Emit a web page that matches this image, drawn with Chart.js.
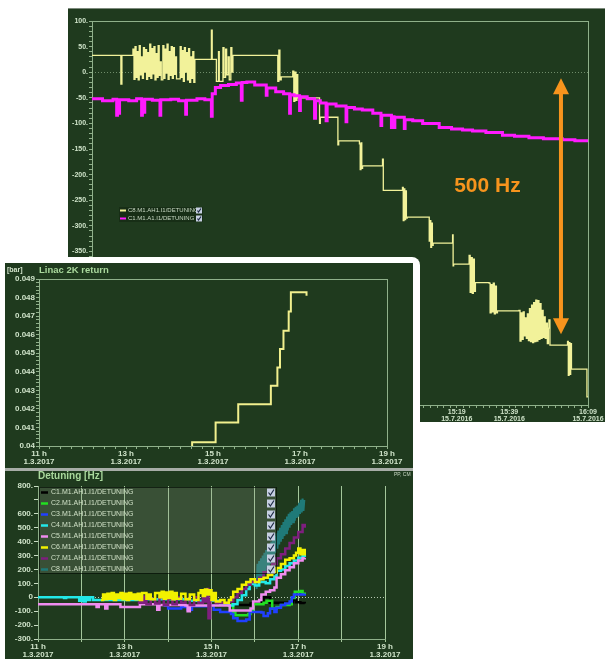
<!DOCTYPE html>
<html>
<head>
<meta charset="utf-8">
<script src="https://cdn.jsdelivr.net/npm/chart.js@4.4.1/dist/chart.umd.min.js"></script>
<style>
  html, body { margin: 0; padding: 0; background: #fff; }
  body { width: 605px; height: 659px; position: relative; overflow: hidden; font-family: "Liberation Sans", Arial, sans-serif; }
  .panel { position: absolute; background: #1f3a1e; }
  #topPanel { left: 68px; top: 8px; width: 537px; height: 414px; border-top: 1px solid #7d8a7d; box-sizing: border-box; }
  #frame { position: absolute; left: 0; top: 257px; width: 420px; height: 402px; background: #fff; border-top-right-radius: 8px; }
  #midPanel { left: 5px; top: 263px; width: 408px; height: 205px; }
  #sep { position: absolute; left: 5px; top: 468px; width: 408px; height: 3px; background: #a7ada7; }
  #detPanel { left: 5px; top: 471px; width: 408px; height: 188px; }
  canvas { position: absolute; }
  #topChart { left: 68px; top: 9px; }
  #midChart { left: 5px; top: 264px; }
  #detChart { left: 5px; top: 471px; }
  .label { position: absolute; white-space: nowrap; font-weight: bold; }
</style>
</head>
<body>
<div id="topPanel" class="panel"></div>
<canvas id="topChart" width="537" height="413"></canvas>
<div id="frame"></div>
<div id="midPanel" class="panel"></div>
<div id="sep"></div>
<div id="detPanel" class="panel"></div>
<canvas id="midChart" width="408" height="204"></canvas>
<canvas id="detChart" width="408" height="188"></canvas>
<div class="label" style="left:7px; top:266px; font-size:7px; color:#d3e4cc;">[bar]</div>
<div class="label" style="left:39px; top:264px; font-size:9.5px; color:#a9d89c;">Linac 2K return</div>
<div class="label" style="left:38px; top:470px; font-size:10px; color:#a9d89c;">Detuning [Hz]</div>
<div class="label" style="left:394px; top:471px; font-size:5px; font-weight:normal; color:#c9d8c4;">PP, CM</div>
<script>
// ---- top panel: detuning of two cavities (minutes after 13:00, Hz) ----
const topTickTimes = [19, 39, 59, 79, 99, 119, 139, 159, 189];
const topTickLabels = ['13:19', '13:39', '13:59', '14:19', '14:39', '14:59', '15:19', '15:39', '16:09'];
const topDate = '15.7.2016';

const c8Points = [
  [0, 33], [11, -23], [11.4, 33],
  [15.6, 45], [16.0, -14], [16.4, 50], [16.8, -10], [17.2, 40], [17.6, -15], [18.0, 52], [18.4, -5], [18.8, 30],
  [19.2, -12], [19.6, 48], [20.0, 0], [20.4, 44], [20.8, -14], [21.2, 38], [21.6, -8], [22.0, 55], [22.4, -12],
  [22.8, 46], [23.2, -3], [23.6, 50], [24.0, -15], [24.4, 36], [24.8, -10], [25.2, 52], [25.6, -6], [26.0, 20], [26.4, -15],
  [27.0, 52], [27.4, -12], [27.8, 45], [28.2, -2], [28.6, 55], [29.0, -14], [29.4, 40], [29.8, -6], [30.2, 50],
  [30.6, -12], [31.0, 48], [31.4, -4], [31.8, 30], [32.2, -13],
  [33.6, 50], [34.0, -10], [34.4, 42], [34.8, -18], [35.2, 48], [35.6, 0], [36.0, 38], [36.4, -15], [36.8, 46],
  [37.2, -20], [37.6, 30], [38.0, -12], [38.4, 40], [38.8, -20], [39.2, 25],
  [45.5, 82], [45.8, 25], [47.4, -18], [48.2, 40], [48.5, -18], [49.9, 48], [50.3, -10], [50.9, 45], [51.3, -5],
  [51.9, 30], [52.3, -15], [52.9, 48], [53.3, 0], [53.7, 33],
  [70.8, -18], [71.2, 43], [71.6, -15], [72.1, -9],
  [76.5, 2], [76.9, -57], [77.3, 0], [77.7, -55], [78.1, -5], [78.4, -50],
  [86.7, -100], [87.0, -88],
  [93.7, -142], [94.0, -134],
  [101.9, -140], [102.2, -190], [102.5, -138], [102.8, -188], [103.1, -183],
  [110.7, -170], [111.0, -231],
  [118.3, -225], [118.6, -290], [118.9, -228], [119.2, -288], [119.5, -232], [119.8, -285], [120.1, -283],
  [128.5, -330], [128.8, -290], [129.1, -342], [129.4, -295], [129.7, -338], [130.0, -334],
  [137.4, -318], [137.6, -378], [137.8, -375],
  [143.7, -358], [144.1, -430], [144.5, -362], [144.9, -432], [145.3, -365], [145.7, -428], [146.1, -411],
  [151.3, -412], [151.7, -470], [152.1, -415], [152.5, -468], [152.9, -412], [153.3, -472], [153.7, -418],
  [154.1, -470], [154.5, -466],
  [162.7, -465], [163.1, -525], [163.5, -470], [163.9, -522], [164.3, -468], [164.7, -515], [165.1, -480],
  [165.5, -520], [165.9, -472], [166.3, -524], [166.7, -462], [167.1, -526], [167.5, -455], [167.9, -528],
  [168.3, -450], [168.7, -526], [169.1, -445], [169.5, -525], [169.9, -446], [170.3, -522], [170.7, -452],
  [171.1, -520], [171.5, -465], [171.9, -518], [172.3, -478], [172.7, -520], [173.1, -490], [173.5, -530],
  [173.9, -500], [174.1, -484], [174.5, -533],
  [181.2, -526], [181.5, -592], [181.8, -528], [182.1, -590], [182.4, -530], [182.7, -580],
  [188.6, -634], [189, -634]
];

const c1Points = [
  [0, -52], [4, -56], [8, -53], [9.4, -84], [9.7, -55], [10.2, -80], [10.5, -54], [14, -56], [17, -52],
  [18.9, -84], [19.2, -55], [19.8, -78], [20.1, -53], [23, -55], [25.9, -84], [26.2, -54], [30, -53], [33, -56],
  [35.7, -82], [36.0, -55], [40, -52], [43, -54], [45.5, -86], [45.8, -42], [47, -30], [49, -26], [52, -24],
  [55, -21], [56.9, -55], [57.2, -20], [59, -19], [62, -25], [66.4, -45], [66.7, -31], [70, -38], [73, -42],
  [75.3, -80], [75.6, -44], [77, -46], [79.1, -75], [79.4, -48], [82, -52], [84.8, -90], [85.2, -56], [87, -60],
  [89.2, -95], [89.6, -62], [93, -66], [96.8, -97], [97.1, -69], [100, -72], [103, -74], [107, -80],
  [110.1, -104], [110.4, -84], [114.1, -108], [114.5, -87], [115.1, -108], [115.4, -88], [119.0, -110],
  [119.3, -93], [122.2, -95], [126, -100], [132.3, -108], [137, -111], [141.2, -113], [145, -115],
  [150.1, -118], [156.4, -123], [161, -125], [166.5, -128], [172, -130], [179.2, -132], [184, -134], [189, -137]
];

// span annotation: 500 Hz drawn between these two detuning values
const spanTime = 178.7;
const spanFrom = -12;
const spanTo = -512;

// ---- middle panel: Linac 2K return pressure (hours, bar) ----
const linacPoints = [
  [14.52, 0.0400], [14.52, 0.0402], [15.06, 0.04127], [15.58, 0.04225], [16.33, 0.04325], [16.48, 0.04423],
  [16.54, 0.04523], [16.62, 0.04621], [16.74, 0.04725], [16.79, 0.04829], [17.08, 0.04829], [17.15, 0.0481]
];
const dayLabel = '1.3.2017';

// ---- bottom panel: detuning of cavities C1..C8 (hours, Hz) ----
const detNames = ['C1.M1.AH1.I1/DETUNING', 'C2.M1.AH1.I1/DETUNING', 'C3.M1.AH1.I1/DETUNING', 'C4.M1.AH1.I1/DETUNING',
  'C5.M1.AH1.I1/DETUNING', 'C6.M1.AH1.I1/DETUNING', 'C7.M1.AH1.I1/DETUNING', 'C8.M1.AH1.I1/DETUNING'];
const detColors = ['#000000', '#22e022', '#2040ff', '#22e8e8', '#f08cf0', '#f2f200', '#7e1f7e', '#1f7a78'];

const detC1 = [[15.45, -45], [15.5, -55], [15.9, -45], [16.1, -35], [16.2, 0], [16.35, -40], [16.8, -35],
  [16.88, -20], [16.95, -35], [17.05, -42], [17.15, -45]];
const detC2 = [[15.45, -50], [15.5, -110], [15.55, -130], [15.85, -120], [15.9, -90], [15.96, -50], [16.2, -40],
  [16.27, -25], [16.35, -25], [16.4, -80], [16.5, -70], [16.6, -55], [16.8, -50], [16.85, -5], [16.92, 40],
  [17.05, 45], [17.1, 25], [17.15, 20]];
const detC3 = [[13.9, -60], [14.0, -80], [14.3, -70], [14.45, -90], [14.55, -65], [14.95, -60], [15.05, -90],
  [15.2, -105], [15.45, -120], [15.5, -150], [15.6, -170], [15.8, -160], [15.88, -105], [16.15, -110],
  [16.2, -135], [16.3, -115], [16.35, -80], [16.45, -105], [16.5, -75], [16.6, -55], [16.7, -45], [16.8, -30],
  [16.85, 0], [16.9, 20], [17.15, 25]];
const detC4 = [[11, 0], [11.6, -5], [11.65, 0], [11.95, -25], [12.0, 0], [12.05, -30], [12.1, 0], [12.15, -20],
  [12.2, 0], [12.27, -20], [13.4, -15], [14.5, -25], [15.2, -45], [15.4, -60], [15.5, -50], [15.6, -20],
  [15.7, 15], [15.8, 60], [15.88, 95], [16.0, 85], [16.1, 110], [16.25, 100], [16.35, 130], [16.45, 150],
  [16.5, 190], [16.6, 200], [16.7, 225], [16.8, 245], [16.9, 265], [17.0, 285], [17.1, 300], [17.15, 290]];
const detC5 = [[11, -50], [12.35, -70], [12.4, -50], [12.55, -80], [12.6, -50], [12.9, -70], [13.35, -50],
  [13.75, -90], [13.8, -55], [14.4, -60], [14.45, -100], [14.5, -60], [15.3, -60], [15.42, -95], [15.9, -80],
  [15.96, -30], [16.1, -20], [16.15, 20], [16.25, 40], [16.35, 50], [16.45, 70], [16.5, 140], [16.6, 165],
  [16.7, 195], [16.8, 215], [16.9, 245], [17.0, 265], [17.1, 280], [17.15, 285]];
const detC6 = [[12.45, -20], [12.5, 20], [12.55, -15], [12.6, 25], [12.65, -10], [12.7, 30], [12.75, -20],
  [12.8, 20], [12.85, -5], [12.9, 30], [12.95, -15], [13.0, 25], [13.05, -20], [13.1, 30], [13.15, -10],
  [13.2, 20], [13.25, -15], [13.3, 25], [13.35, -20], [13.4, 30], [13.5, -10], [13.55, 20], [13.6, -15],
  [13.7, 30], [13.8, 0], [13.85, 40], [13.9, -10], [13.95, 35], [14.0, -5], [14.05, 40], [14.1, -15],
  [14.15, 30], [14.2, -10], [14.3, 25], [14.4, -15], [14.5, 20], [14.6, -20], [14.7, 30], [14.75, 50],
  [14.8, 10], [14.85, 55], [14.9, 20], [14.95, 50], [15.0, -20], [15.05, 30], [15.1, -30], [15.2, -20],
  [15.3, -40], [15.4, -20], [15.45, 0], [15.5, 40], [15.6, 60], [15.7, 90], [15.8, 110], [15.9, 130],
  [16.0, 110], [16.1, 130], [16.2, 140], [16.3, 160], [16.4, 180], [16.5, 210], [16.6, 240], [16.7, 270],
  [16.8, 280], [16.9, 300], [16.95, 320], [17.0, 350], [17.05, 310], [17.1, 340], [17.15, 300]];
const detC7 = [[13.3, -40], [13.35, 0], [13.4, -40], [13.45, 5], [13.5, -50], [13.6, -10], [13.7, -45],
  [13.8, 0], [13.9, -55], [14.0, -10], [14.1, -50], [14.2, 0], [14.3, -40], [14.4, -10], [14.5, -55],
  [14.6, 0], [14.7, -40], [14.8, 10], [14.85, -30], [14.9, 60], [14.93, -150], [14.97, -20], [15.1, -40],
  [15.3, -40], [15.4, -30], [15.5, 0], [15.6, 30], [15.7, 60], [15.8, 90], [15.9, 110], [16.0, 120],
  [16.1, 140], [16.2, 180], [16.3, 210], [16.4, 240], [16.5, 280], [16.6, 310], [16.7, 350], [16.8, 390],
  [16.9, 430], [17.0, 470], [17.1, 520], [17.15, 500]];
const detC8 = [[16.04, 60], [16.06, 240], [16.08, 90], [16.10, 260], [16.12, 110], [16.14, 280], [16.16, 130],
  [16.18, 300], [16.20, 150], [16.22, 320], [16.24, 180], [16.26, 340], [16.28, 200], [16.30, 360],
  [16.32, 220], [16.34, 380], [16.36, 240], [16.38, 400], [16.40, 260], [16.42, 420], [16.44, 290],
  [16.46, 440], [16.48, 320], [16.50, 460], [16.52, 350], [16.54, 480], [16.56, 380], [16.58, 500],
  [16.60, 400], [16.62, 520], [16.64, 420], [16.66, 540], [16.68, 440], [16.70, 560], [16.72, 460],
  [16.74, 580], [16.76, 480], [16.78, 600], [16.80, 500], [16.82, 610], [16.84, 520], [16.86, 620],
  [16.88, 540], [16.90, 640], [16.92, 550], [16.94, 650], [16.96, 570], [16.98, 660], [17.00, 580],
  [17.02, 680], [17.04, 600], [17.06, 700], [17.08, 610], [17.10, 710], [17.12, 620], [17.14, 700]];
const detSeries = [detC1, detC2, detC3, detC4, detC5, detC6, detC7, detC8];
// drawing order, lower value ends up on top
const detOrder = [8, 6, 5, 4, 3, 1, 2, 7];

Chart.defaults.font.family = '"Liberation Sans", Arial, sans-serif';
Chart.defaults.animation = false;

const axisGreen = '#8fb08a';
const tickText = '#cfe3c9';

function pts(list) {
  return list.map(p => ({ x: p[0], y: p[1] }));
}

function drawCheck(ctx, x, y, s) {
  ctx.fillStyle = '#c6cfe2';
  ctx.fillRect(x, y, s, s);
  ctx.strokeStyle = '#1e2a44';
  ctx.lineWidth = 1.2;
  ctx.beginPath();
  ctx.moveTo(x + 1.5, y + s * 0.5);
  ctx.lineTo(x + s * 0.42, y + s - 1.5);
  ctx.lineTo(x + s - 1, y + 1);
  ctx.stroke();
}

function zeroLine(chart, color) {
  const { ctx, chartArea } = chart;
  const y = Math.round(chart.scales.y.getPixelForValue(0)) + 0.5;
  ctx.save();
  ctx.strokeStyle = color;
  ctx.lineWidth = 1;
  ctx.setLineDash([1, 2]);
  ctx.beginPath();
  ctx.moveTo(chartArea.left, y);
  ctx.lineTo(chartArea.right, y);
  ctx.stroke();
  ctx.restore();
}

function boxFrame(chart, color) {
  const { ctx, chartArea } = chart;
  ctx.save();
  ctx.strokeStyle = color;
  ctx.lineWidth = 1;
  ctx.strokeRect(chartArea.left + 0.5, chartArea.top + 0.5, chartArea.right - chartArea.left, chartArea.bottom - chartArea.top);
  ctx.restore();
}

// ---------------- top chart ----------------
const topDecor = {
  id: 'topDecor',
  beforeDatasetsDraw(chart) {
    zeroLine(chart, '#6f8c6a');
    boxFrame(chart, axisGreen);
  },
  afterDatasetsDraw(chart) {
    const ctx = chart.ctx;
    const xs = chart.scales.x, ys = chart.scales.y;
    ctx.save();
    // legend
    ctx.fillStyle = 'rgba(10,25,10,0.35)';
    ctx.fillRect(51, 198, 84, 15);
    ctx.font = '6px "Liberation Sans", Arial, sans-serif';
    ctx.textBaseline = 'middle';
    [[0, '#f2f29a'], [1, '#ff1aff']].forEach(([i, col], k) => {
      const y = 201.5 + k * 8;
      ctx.strokeStyle = col;
      ctx.lineWidth = 2;
      ctx.beginPath(); ctx.moveTo(52, y); ctx.lineTo(58, y); ctx.stroke();
      ctx.fillStyle = '#c9d9c4';
      ctx.fillText(chart.data.datasets[1 - i].label, 60, y);
      drawCheck(ctx, 128, y - 3, 6);
    });
    // 500 Hz span arrow
    const ax = xs.getPixelForValue(spanTime);
    const yTop = ys.getPixelForValue(spanFrom);
    const yBot = ys.getPixelForValue(spanTo);
    const orange = '#f7941d';
    ctx.strokeStyle = orange;
    ctx.fillStyle = orange;
    ctx.lineWidth = 4;
    ctx.beginPath(); ctx.moveTo(ax, yTop + 14); ctx.lineTo(ax, yBot - 14); ctx.stroke();
    ctx.beginPath(); ctx.moveTo(ax, yTop); ctx.lineTo(ax - 8, yTop + 16); ctx.lineTo(ax + 8, yTop + 16); ctx.closePath(); ctx.fill();
    ctx.beginPath(); ctx.moveTo(ax, yBot); ctx.lineTo(ax - 8, yBot - 16); ctx.lineTo(ax + 8, yBot - 16); ctx.closePath(); ctx.fill();
    ctx.font = 'bold 21px "Liberation Sans", Arial, sans-serif';
    ctx.textBaseline = 'middle';
    ctx.fillText((spanFrom - spanTo) + ' Hz', xs.getPixelForValue(138), ys.getPixelForValue(-222));
    ctx.restore();
  }
};

new Chart(document.getElementById('topChart'), {
  type: 'line',
  data: {
    datasets: [
      { label: 'C1.M1.A1.I1/DETUNING', data: pts(c1Points), borderColor: '#ff1aff', borderWidth: 3, stepped: true, pointRadius: 0 },
      { label: 'C8.M1.AH1.I1/DETUNING', data: pts(c8Points), borderColor: '#f2f29a', borderWidth: 1.3, stepped: true, pointRadius: 0 }
    ]
  },
  options: {
    responsive: false,
    layout: { padding: { top: 12, right: 17, left: 0, bottom: 0 } },
    plugins: { legend: { display: false }, tooltip: { enabled: false } },
    scales: {
      x: {
        type: 'linear', min: 0, max: 189,
        afterBuildTicks: s => {
          s.ticks = [];
          for (let k = 0; k <= 75; k++) s.ticks.push({ value: 1.5 + k * 2.5 });
        },
        afterFit: s => { s.height = 17; },
        ticks: {
          autoSkip: false, maxRotation: 0, padding: 1, color: tickText,
          font: { size: 7, weight: 'bold', lineHeight: 1 },
          callback: v => {
            const i = topTickTimes.indexOf(v);
            return i < 0 ? '' : [topTickLabels[i], topDate];
          }
        },
        grid: { drawOnChartArea: false, tickLength: 3, color: axisGreen },
        border: { color: axisGreen }
      },
      y: {
        min: -650, max: 100,
        afterBuildTicks: s => {
          s.ticks = [];
          for (let v = -650; v <= 100; v += 10) s.ticks.push({ value: v });
        },
        afterFit: s => { s.width = 24; },
        ticks: {
          autoSkip: false, padding: 1, color: tickText,
          font: { size: 7, weight: 'bold' },
          callback: v => (v % 50 === 0 ? v + '.' : '')
        },
        grid: { drawOnChartArea: false, tickLength: 3, color: axisGreen },
        border: { color: axisGreen }
      }
    }
  },
  plugins: [topDecor]
});

// ---------------- middle chart ----------------
new Chart(document.getElementById('midChart'), {
  type: 'line',
  data: {
    datasets: [
      { label: 'Linac 2K return', data: pts(linacPoints), borderColor: '#f1f08e', borderWidth: 2, stepped: true, pointRadius: 0 }
    ]
  },
  options: {
    responsive: false,
    layout: { padding: { top: 15, right: 26, left: 0, bottom: 0 } },
    plugins: { legend: { display: false }, tooltip: { enabled: false } },
    scales: {
      x: {
        type: 'linear', min: 11, max: 19,
        afterBuildTicks: s => {
          s.ticks = [];
          for (let k = 0; k <= 32; k++) s.ticks.push({ value: 11 + k * 0.25 });
        },
        afterFit: s => { s.height = 22; },
        ticks: {
          autoSkip: false, maxRotation: 0, padding: 1, color: tickText,
          font: { size: 8, weight: 'bold', lineHeight: 1 },
          callback: v => (Number.isInteger(v) && (v - 11) % 2 === 0 ? [v + ' h', dayLabel] : '')
        },
        grid: { drawOnChartArea: false, tickLength: 3, color: axisGreen },
        border: { color: axisGreen }
      },
      y: {
        min: 0.04, max: 0.049,
        afterBuildTicks: s => {
          s.ticks = [];
          for (let k = 0; k <= 45; k++) s.ticks.push({ value: 0.04 + k * 0.0002 });
        },
        afterFit: s => { s.width = 34; },
        ticks: {
          autoSkip: false, padding: 1, color: tickText,
          font: { size: 8, weight: 'bold' },
          callback: v => {
            const k = Math.round((v - 0.04) / 0.0002);
            if (k % 5 !== 0) return '';
            return k === 0 ? '0.04' : v.toFixed(3);
          }
        },
        grid: { drawOnChartArea: false, tickLength: 3, color: axisGreen },
        border: { color: axisGreen }
      }
    }
  },
  plugins: [{ id: 'midFrame', beforeDatasetsDraw: chart => boxFrame(chart, axisGreen) }]
});

// ---------------- bottom chart ----------------
const detDecor = {
  id: 'detDecor',
  beforeDatasetsDraw(chart) {
    zeroLine(chart, '#b9c9b4');
  },
  afterDatasetsDraw(chart) {
    const ctx = chart.ctx;
    const left = chart.chartArea.left + 1;
    ctx.save();
    ctx.fillStyle = 'rgba(150,160,140,0.22)';
    ctx.fillRect(left, 16, 237, 86);
    ctx.strokeStyle = 'rgba(5,15,5,0.7)';
    ctx.lineWidth = 1;
    ctx.strokeRect(left + 0.5, 16.5, 237, 86);
    ctx.font = '7px "Liberation Sans", Arial, sans-serif';
    ctx.textBaseline = 'middle';
    detNames.forEach((name, i) => {
      const y = 21.5 + i * 11;
      ctx.strokeStyle = detColors[i];
      ctx.lineWidth = 2.5;
      ctx.beginPath(); ctx.moveTo(left + 2, y); ctx.lineTo(left + 9, y); ctx.stroke();
      ctx.fillStyle = '#cfe0c6';
      ctx.fillText(name, left + 12, y);
      drawCheck(ctx, left + 228, y - 4, 8);
    });
    ctx.restore();
  }
};

new Chart(document.getElementById('detChart'), {
  type: 'line',
  data: {
    datasets: detSeries.map((s, i) => ({
      label: detNames[i],
      data: pts(s),
      borderColor: detColors[i],
      borderWidth: i === 7 ? 2 : 2.5,
      stepped: i !== 7,
      pointRadius: 0,
      order: detOrder[i]
    }))
  },
  options: {
    responsive: false,
    layout: { padding: { top: 15, right: 28, left: 0, bottom: 0 } },
    plugins: { legend: { display: false }, tooltip: { enabled: false } },
    scales: {
      x: {
        type: 'linear', min: 11, max: 19,
        afterBuildTicks: s => {
          s.ticks = [];
          for (let h = 11; h <= 19; h++) s.ticks.push({ value: h });
        },
        afterFit: s => { s.height = 20; },
        ticks: {
          autoSkip: false, maxRotation: 0, padding: 1, color: tickText,
          font: { size: 8, weight: 'bold', lineHeight: 1 },
          callback: v => ((v - 11) % 2 === 0 ? [v + ' h', dayLabel] : '')
        },
        grid: { color: '#a4c79b', tickLength: 3, lineWidth: 1 },
        border: { color: axisGreen }
      },
      y: {
        min: -300, max: 800,
        afterBuildTicks: s => {
          s.ticks = [];
          for (let v = -300; v <= 800; v += 100) s.ticks.push({ value: v });
        },
        afterFit: s => { s.width = 33; },
        ticks: {
          autoSkip: false, padding: 1, color: tickText,
          font: { size: 8, weight: 'bold' },
          callback: v => (v === 700 ? '' : v === 0 ? '0' : v + '.')
        },
        grid: { drawOnChartArea: false, tickLength: 4, color: '#c9dcc4' },
        border: { color: axisGreen }
      }
    }
  },
  plugins: [detDecor]
});
</script>
</body>
</html>
